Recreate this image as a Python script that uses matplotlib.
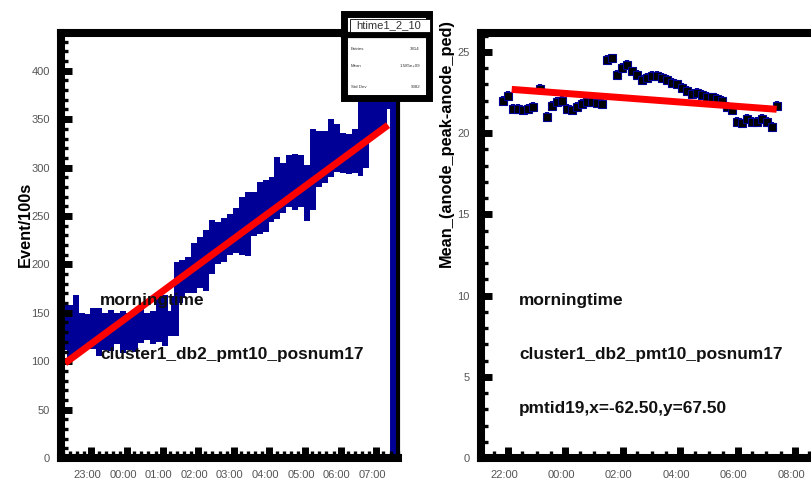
import matplotlib
matplotlib.use("Agg")
import matplotlib.pyplot as plt
import matplotlib.transforms as mtransforms
from matplotlib.ticker import FixedLocator, FixedFormatter, MultipleLocator
from matplotlib.patches import Rectangle
from matplotlib.lines import Line2D
import numpy as np

plt.rcParams["font.family"] = ["Liberation Sans", "DejaVu Sans"]

# ---------------- data ----------------
# event rate histogram (hours relative to midnight, 10-minute bins)
rate_start_h = -1.86
rate_bin_h = 1.0 / 6.0
rate_counts = [136, 130, 136, 130, 132, 134, 130, 131, 132, 134, 130, 131, 131, 137,
               136, 135, 144, 142, 139, 164, 185, 189, 196, 202, 204, 218, 222, 225,
               231, 235, 240, 242, 252, 258, 260, 267, 279, 279, 286, 285, 286, 274,
               298, 309, 311, 320, 320, 315, 314, 317, 333, 340, 358, 360, 365, 375]
rate_errs = [24, 28, 32, 20, 17, 21, 25, 19, 21, 16, 22, 19, 21, 18,
             14, 17, 24, 26, 13, 38, 20, 19, 26, 26, 31, 28, 22, 23,
             21, 23, 30, 33, 23, 27, 27, 23, 32, 26, 27, 29, 27, 29,
             42, 29, 27, 30, 25, 21, 21, 23, 42, 40, 27, 25, 25, 15]
# linear fit of the rate: value = intercept + slope * hour
rate_fit_intercept = 145.2
rate_fit_slope = 27.1
rate_fit_range = [-1.74, 7.33]

# mean anode peak per time slice
mean_t = [-2.17, -2.00, -1.83, -1.65, -1.48, -1.30, -1.13, -0.89, -0.64, -0.47,
          -0.29, -0.12, 0.06, 0.23, 0.40, 0.58, 0.75, 0.93, 1.10, 1.28,
          1.45, 1.62, 1.80, 1.97, 2.15, 2.32, 2.50, 2.67, 2.84, 3.02,
          3.19, 3.37, 3.54, 3.71, 3.89, 4.06, 4.24, 4.41, 4.59, 4.76,
          4.93, 5.11, 5.28, 5.46, 5.63, 5.81, 5.98, 6.15, 6.33, 6.50,
          6.68, 6.85, 7.02, 7.20, 7.37]
mean_val = [22.0, 22.3, 21.5, 21.5, 21.4, 21.5, 21.6, 22.7, 21.0, 21.7,
            21.9, 22.0, 21.5, 21.4, 21.6, 21.8, 21.9, 21.9, 21.85, 21.8,
            24.5, 24.6, 23.6, 24.0, 24.2, 23.8, 23.6, 23.3, 23.4, 23.5,
            23.5, 23.4, 23.3, 23.1, 23.0, 22.8, 22.6, 22.4, 22.5, 22.35,
            22.25, 22.2, 22.1, 22.0, 21.6, 21.4, 20.7, 20.6, 20.9, 20.7,
            20.7, 20.9, 20.7, 20.4, 21.7]
mean_err = 0.3
mean_fit_intercept = 22.45
mean_fit_slope = -0.133
mean_fit_range = [-1.87, 7.36]

left_ticks = [-1, 0, 1, 2, 3, 4, 5, 6, 7]
left_ticklabels = ["23:00", "00:00", "01:00", "02:00", "03:00", "04:00", "05:00", "06:00", "07:00"]
right_ticks = [-2, 0, 2, 4, 6, 8]
right_ticklabels = ["22:00", "00:00", "02:00", "04:00", "06:00", "08:00"]

hist_name = "htime1_2_10"
stats_rows = [("Entries", "3814"), ("Mean", "1.585e+09"), ("Std Dev", "9082")]

NAVY = "#000096"
RED = "#ff0000"

# ---------------- layout ----------------
W, H = 812, 480
fig = plt.figure(figsize=(W / 100, H / 100), dpi=100)


def px_rect(x0, y0, x1, y1):
    return [x0 / W, 1 - y1 / H, (x1 - x0) / W, (y1 - y0) / H]


axL = fig.add_axes(px_rect(61, 33, 398, 458))
axR = fig.add_axes(px_rect(481, 33, 818, 458))


def style_axes(ax, xmaj, xlabels, xminor, yminor, ymax, xlim, right_lw):
    ax.set_xlim(*xlim)
    ax.set_ylim(0, ymax)
    for side in ("left", "bottom", "top"):
        ax.spines[side].set_linewidth(5.8)
    ax.spines["right"].set_linewidth(right_lw)
    ax.xaxis.set_major_locator(FixedLocator(xmaj))
    ax.xaxis.set_major_formatter(FixedFormatter(xlabels))
    ax.xaxis.set_minor_locator(MultipleLocator(xminor))
    ax.yaxis.set_minor_locator(MultipleLocator(yminor))
    ax.tick_params(axis="both", which="major", direction="in", length=8, width=5,
                   labelsize=8, labelcolor="#555555", top=False, right=False)
    ax.tick_params(axis="both", which="minor", direction="in", length=5, width=2.4,
                   top=False, right=False)
    ax.tick_params(axis="x", which="major", pad=9)
    ax.tick_params(axis="y", which="major", pad=8)
    shift = mtransforms.ScaledTranslation(-4 / 100, 0, fig.dpi_scale_trans)
    for lab in ax.get_xticklabels():
        lab.set_transform(lab.get_transform() + shift)


# ---------------- left: event rate ----------------
edges = rate_start_h + rate_bin_h * np.arange(len(rate_counts) + 1)
centers = 0.5 * (edges[:-1] + edges[1:])
counts = np.array(rate_counts, dtype=float)
errs = np.array(rate_errs, dtype=float)
axL.bar(centers, 2 * errs, bottom=counts - errs, width=rate_bin_h,
        color=NAVY, linewidth=0, zorder=1)
axL.stairs(counts, edges, baseline=0, color=NAVY, linewidth=5, zorder=1.5)
fx = np.array(rate_fit_range)
axL.plot(fx, rate_fit_intercept + rate_fit_slope * fx, color=RED, lw=5,
         solid_capstyle="butt", zorder=2)
style_axes(axL, left_ticks, left_ticklabels, 0.2, 10, 439, (-1.854, 7.61), 3)
axL.yaxis.set_major_locator(MultipleLocator(50))

# ---------------- right: mean anode peak ----------------
axR.errorbar(mean_t, mean_val, yerr=mean_err, fmt="s", color=NAVY, ms=5.5,
             mfc="black", mec=NAVY, mew=0.8, elinewidth=3, capsize=0, zorder=2)
fx = np.array(mean_fit_range)
axR.plot(fx, mean_fit_intercept + mean_fit_slope * fx, color=RED, lw=5,
         solid_capstyle="butt", zorder=3)
style_axes(axR, right_ticks, right_ticklabels, 0.5, 1, 26.17, (-2.94, 8.80), 5.8)
axR.yaxis.set_major_locator(MultipleLocator(5))

# ---------------- axis titles ----------------
fig.text(25 / W, 1 - 267 / H, "Event/100s", rotation=90, rotation_mode="anchor",
         ha="left", va="center", fontsize=11.8, fontweight="bold")
fig.text(446 / W, 1 - 267 / H, "Mean_(anode_peak-anode_ped)", rotation=90,
         rotation_mode="anchor", ha="left", va="center", fontsize=11.8,
         fontweight="bold")

# ---------------- annotations ----------------
bold = dict(fontsize=12.4, fontweight="bold", ha="left", va="center", color="#111111")
fig.text(100 / W, 1 - 301 / H, "morningtime", **bold)
fig.text(100 / W, 1 - 355 / H, "cluster1_db2_pmt10_posnum17", **bold)
fig.text(519 / W, 1 - 301 / H, "morningtime", **bold)
fig.text(519 / W, 1 - 355 / H, "cluster1_db2_pmt10_posnum17", **bold)
fig.text(519 / W, 1 - 408 / H, "pmtid19,x=-62.50,y=67.50", **bold)

# ---------------- statistics box ----------------
bx0, by0, bx1, by1 = 344, 14, 429, 98
fig.patches.append(Rectangle((bx0 / W, 1 - by1 / H), (bx1 - bx0) / W, (by1 - by0) / H,
                             transform=fig.transFigure, facecolor="white",
                             edgecolor="black", linewidth=5, zorder=10))
fig.patches.append(Rectangle((350 / W, 1 - 32 / H), 80 / W, 13 / H,
                             transform=fig.transFigure, facecolor="white",
                             edgecolor="black", linewidth=0.6, zorder=11))
fig.lines.append(Line2D([bx0 / W, bx1 / W], [1 - 35 / H, 1 - 35 / H],
                        transform=fig.transFigure, color="black", lw=4.5, zorder=11))
fig.text(389 / W, 1 - 25.5 / H, hist_name, ha="center", va="center", fontsize=8,
         color="#333333", zorder=12)
for (name, val), yy in zip(stats_rows, [49, 66, 87]):
    fig.text(351 / W, 1 - yy / H, name, ha="left", va="center", fontsize=3.2,
             color="#333333", zorder=12)
    fig.text(420 / W, 1 - yy / H, val, ha="right", va="center", fontsize=3.2,
             color="#333333", zorder=12)

fig.savefig("out.png", dpi=100, facecolor="white")
